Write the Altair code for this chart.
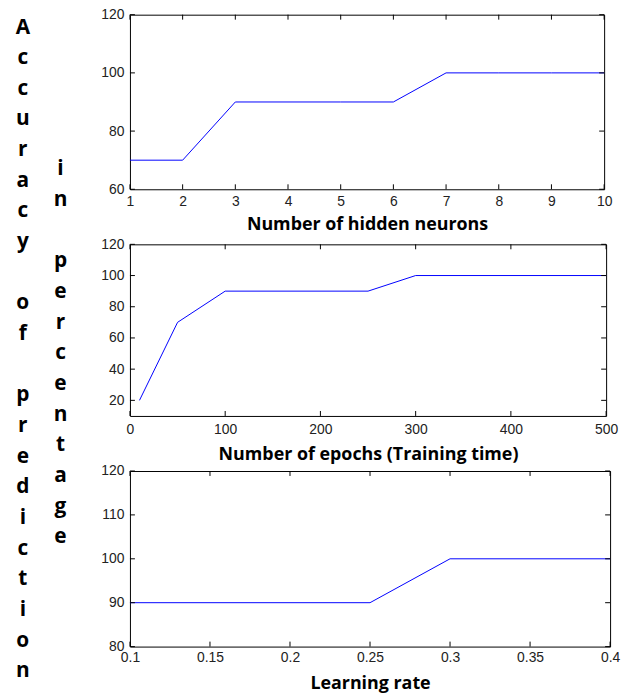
import altair as alt
import pandas as pd

# ---- data ----
neurons = [1, 2, 3, 4, 5, 6, 7, 8, 9, 10]
neuron_acc = [70, 70, 90, 90, 90, 90, 100, 100, 100, 100]

epochs = [10, 50, 100, 250, 300, 500]
epoch_acc = [20, 70, 90, 90, 100, 100]

rates = [0.1, 0.25, 0.3, 0.4]
rate_acc = [90, 90, 100, 100]

neuron_xticks = [1, 2, 3, 4, 5, 6, 7, 8, 9, 10]
neuron_yticks = [60, 80, 100, 120]
epoch_xticks = [0, 100, 200, 300, 400, 500]
epoch_yticks = [20, 40, 60, 80, 100, 120]
rate_xticks = [0.1, 0.15, 0.2, 0.25, 0.3, 0.35, 0.4]
rate_yticks = [80, 90, 100, 110, 120]

ylabel_1 = "Accuracy of prediction"
ylabel_2 = "in percentage"

LABEL_FONT = "Liberation Sans"
TITLE_FONT = "Open Sans"


def panel(xs, ys, xdom, xticks, ydom, yticks, title, w, h, lpad, tpad):
    df = pd.DataFrame({"x": xs, "y": ys})
    xscale = alt.Scale(domain=xdom, nice=False, zero=False)
    yscale = alt.Scale(domain=ydom, nice=False, zero=False)
    xaxis = alt.Axis(values=xticks, title=title, labelExpr="'' + datum.value",
                     ticks=False, tickSize=0,
                     domain=False, grid=False, labelPadding=lpad, titlePadding=tpad,
                     labelFlush=False, labelOverlap=False, labelBound=False,
                     labelFont=LABEL_FONT, labelFontSize=14, labelColor="#222222",
                     titleFont=TITLE_FONT, titleFontSize=18, titleFontWeight="bold",
                     titleColor="black")
    yaxis = alt.Axis(values=yticks, title=None, labelExpr="'' + datum.value",
                     ticks=False, tickSize=0,
                     domain=False, grid=False, labelPadding=6,
                     labelFlush=False, labelOverlap=False, labelBound=False,
                     labelFont=LABEL_FONT, labelFontSize=14, labelColor="#222222")
    line = alt.Chart(df).mark_line(color="#0000FF", strokeWidth=1).encode(
        x=alt.X("x:Q", scale=xscale, axis=xaxis),
        y=alt.Y("y:Q", scale=yscale, axis=yaxis),
    )
    xt = alt.Chart(pd.DataFrame({"x": xticks}))
    yt = alt.Chart(pd.DataFrame({"y": yticks}))
    top = xt.mark_rule(color="black", strokeWidth=1).encode(
        x=alt.X("x:Q", scale=xscale, axis=xaxis), y=alt.value(0), y2=alt.value(5))
    bottom = xt.mark_rule(color="black", strokeWidth=1).encode(
        x=alt.X("x:Q", scale=xscale, axis=xaxis), y=alt.value(h), y2=alt.value(h - 5))
    left = yt.mark_rule(color="black", strokeWidth=1).encode(
        y=alt.Y("y:Q", scale=yscale, axis=yaxis), x=alt.value(0), x2=alt.value(5))
    right = yt.mark_rule(color="black", strokeWidth=1).encode(
        y=alt.Y("y:Q", scale=yscale, axis=yaxis), x=alt.value(w), x2=alt.value(w - 5))
    return alt.layer(line, top, bottom, left, right).properties(width=w, height=h)


p1 = panel(neurons, neuron_acc, [1, 10], neuron_xticks, [60, 120], neuron_yticks,
           "Number of hidden neurons", 478, 176, 5, 8)
p2 = panel(epochs, epoch_acc, [0, 500], epoch_xticks, [10, 120], epoch_yticks,
           "Number of epochs (Training time)", 480, 173, 7, 9)
p3 = panel(rates, rate_acc, [0.1, 0.4], rate_xticks, [80, 120], rate_yticks,
           "Learning rate", 484, 177, 4.5, 9.5)

panels = alt.vconcat(p1, p2, p3, spacing=55.5, bounds="flush")

LINE_H = 30.9


def letter_column(label, x_px, first_baseline):
    df = pd.DataFrame({"ch": list(label), "row": list(range(len(label)))})
    return alt.Chart(df).mark_text(
        font=TITLE_FONT, fontSize=21, fontWeight="bold", align="center",
        baseline="alphabetic", color="black"
    ).encode(
        x=alt.value(x_px),
        y=alt.Y("row:Q", axis=None,
                scale=alt.Scale(domain=[0, 1], range=[first_baseline, first_baseline + LINE_H])),
        text="ch:N",
    )


t1 = letter_column(ylabel_1, 22, 19)
t2 = letter_column(ylabel_2, 60, 162)
text_col = alt.layer(t1, t2).resolve_scale(y="independent").properties(
    width=80, height=600, view=alt.ViewBackground(stroke="transparent"))

chart = alt.hconcat(text_col, panels, spacing=19).properties(
    padding={"left": 0, "top": 4, "right": 0, "bottom": 0}
).configure_view(stroke="black", strokeWidth=1)

chart.save("out.html", embed_options={"renderer": "svg", "actions": False})
